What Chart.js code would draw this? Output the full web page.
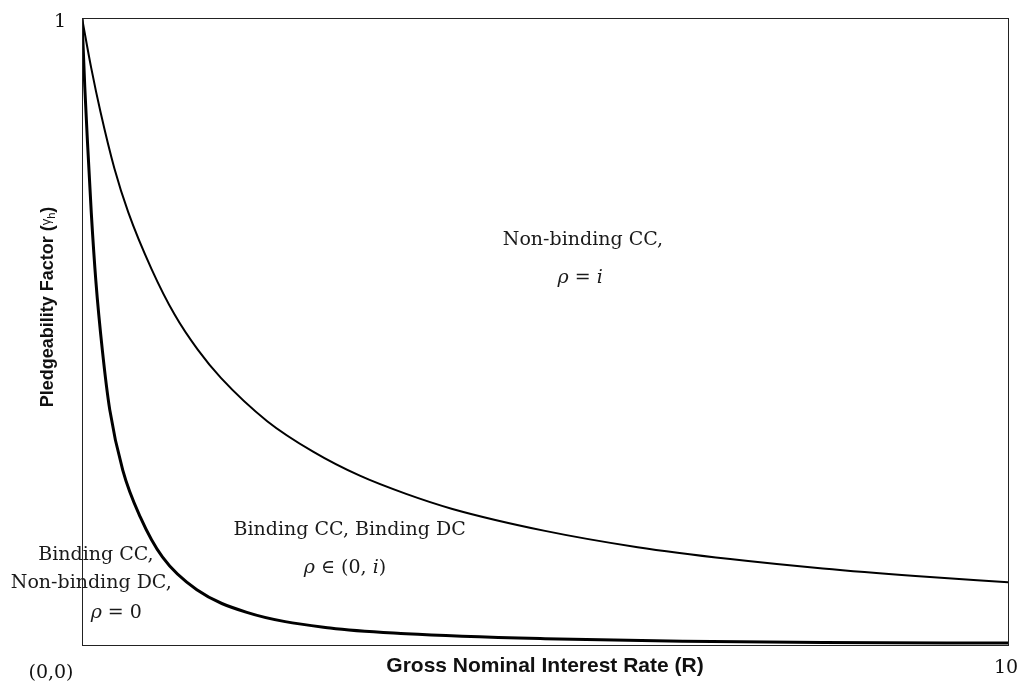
<!DOCTYPE html>
<html>
<head>
<meta charset="utf-8">
<script src="https://cdn.jsdelivr.net/npm/chart.js@4.4.0/dist/chart.umd.min.js"></script>
<style>
  html, body { margin: 0; padding: 0; background: #fff; }
  #wrap { width: 1021px; height: 690px; }
</style>
</head>
<body>
<div id="wrap"><canvas id="pledge"></canvas></div>
<script>
// upper curve : boundary between non-binding CC and binding CC/DC
const upperX = [0, 0.1, 0.2, 0.35, 0.5, 0.75, 1.0, 1.25, 1.5, 2.0, 2.5, 3.0, 3.5, 4.0, 5.0, 6.0, 7.0, 8.0, 9.0, 10];
const upperY = [1, 0.92, 0.85, 0.76, 0.69, 0.60, 0.527, 0.471, 0.426, 0.357, 0.308, 0.270, 0.241, 0.217, 0.182, 0.156, 0.137, 0.122, 0.110, 0.100];

// lower curve : boundary where the DC starts to bind
const lowerX = [0, 0.03, 0.06, 0.1, 0.15, 0.22, 0.30, 0.44, 0.63, 0.87, 1.24, 1.78, 2.68, 3.5, 5.0, 6.5, 8.0, 10];
const lowerY = [1, 0.89, 0.80, 0.69, 0.58, 0.47, 0.375, 0.279, 0.204, 0.140, 0.088, 0.052, 0.027, 0.018, 0.010, 0.006, 0.004, 0.003];

const xTickLabels = ['(0,0)', '10'];
const yTickLabels = ['1'];
const xTitle = 'Gross Nominal Interest Rate (R)';

// region texts, each line split in runs [text, italic?]
const regionText = [
  [['Non-binding CC,', false]],
  [['ρ', true], [' = ', false], ['i', true]],
  [['Binding CC, Binding DC', false]],
  [['ρ', true], [' ∈ (0, ', false], ['i', true], [')', false]],
  [['Binding CC,', false]],
  [['Non-binding DC,', false]],
  [['ρ', true], [' = 0', false]]
];
// where each line sits, in data units (center x, middle y)
const regionPos = [
  [5.41, 0.646], [5.38, 0.585],
  [2.89, 0.183], [2.84, 0.123],
  [0.15, 0.144], [0.10, 0.099], [0.37, 0.051]
];

const toPts = (xs, ys) => xs.map((x, i) => ({ x: x, y: ys[i] }));

const serif = '"DejaVu Serif", serif';
const sans = '"Liberation Sans", Arial, sans-serif';

function drawRuns(ctx, runs, cx, cy, size) {
  let total = 0;
  runs.forEach(r => {
    ctx.font = (r[1] ? 'italic ' : '') + size + 'px ' + serif;
    total += ctx.measureText(r[0]).width;
  });
  let x = cx - total / 2;
  ctx.textAlign = 'left';
  ctx.textBaseline = 'middle';
  runs.forEach(r => {
    ctx.font = (r[1] ? 'italic ' : '') + size + 'px ' + serif;
    ctx.fillText(r[0], x, cy);
    x += ctx.measureText(r[0]).width;
  });
}

const decor = {
  id: 'decor',
  afterDraw(chart) {
    const ctx = chart.ctx;
    const a = chart.chartArea;
    const xs = chart.scales.x, ys = chart.scales.y;
    ctx.save();

    // frame
    ctx.strokeStyle = '#222';
    ctx.lineWidth = 1;
    ctx.strokeRect(a.left + 0.5, a.top + 0.5, a.right - a.left, a.bottom - a.top);

    // tick labels
    ctx.fillStyle = '#111';
    ctx.font = '19px ' + serif;
    ctx.textAlign = 'center';
    ctx.textBaseline = 'middle';
    ctx.fillText(xTickLabels[0], xs.getPixelForValue(0) - 31, a.bottom + 28);
    ctx.fillText(xTickLabels[1], xs.getPixelForValue(10) - 2, a.bottom + 23);
    ctx.fillText(yTickLabels[0], 60, ys.getPixelForValue(1) + 4);

    // axis titles
    ctx.font = 'bold 21px ' + sans;
    ctx.fillText(xTitle, 545, a.bottom + 21);

    ctx.translate(48, 307);
    ctx.rotate(-Math.PI / 2);
    const main = 'Pledgeability Factor (';
    ctx.font = 'bold 18px ' + sans;
    const w1 = ctx.measureText(main).width;
    ctx.font = '13px ' + sans;
    const wg = ctx.measureText('γ').width;
    ctx.font = '11px ' + sans;
    const wh = ctx.measureText('h').width;
    ctx.font = 'bold 18px ' + sans;
    const wc = ctx.measureText(')').width;
    let x = -(w1 + wg + wh + wc) / 2;
    ctx.textAlign = 'left';
    ctx.fillText(main, x, 0); x += w1;
    ctx.font = '13px ' + sans;
    ctx.fillText('γ', x, -2); x += wg;
    ctx.font = '11px ' + sans;
    ctx.fillText('h', x, 4); x += wh;
    ctx.font = 'bold 18px ' + sans;
    ctx.fillText(')', x, 0);
    ctx.setTransform(1, 0, 0, 1, 0, 0);

    // region labels
    ctx.fillStyle = '#1a1a1a';
    regionText.forEach((runs, i) => {
      const p = regionPos[i];
      drawRuns(ctx, runs, xs.getPixelForValue(p[0]), ys.getPixelForValue(p[1]), 19);
    });
    ctx.restore();
  }
};

new Chart(document.getElementById('pledge'), {
  type: 'scatter',
  data: {
    datasets: [
      {
        label: 'upper',
        data: toPts(upperX, upperY),
        showLine: true,
        borderColor: '#000',
        borderWidth: 2,
        pointRadius: 0,
        cubicInterpolationMode: 'monotone'
      },
      {
        label: 'lower',
        data: toPts(lowerX, lowerY),
        showLine: true,
        borderColor: '#000',
        borderWidth: 3,
        pointRadius: 0,
        cubicInterpolationMode: 'monotone'
      }
    ]
  },
  options: {
    responsive: true,
    maintainAspectRatio: false,
    animation: false,
    layout: { padding: { left: 82, right: 13, top: 18, bottom: 45 } },
    plugins: { legend: { display: false }, tooltip: { enabled: false } },
    scales: {
      x: { type: 'linear', min: 0, max: 10, display: false },
      y: { type: 'linear', min: 0, max: 1, display: false }
    }
  },
  plugins: [decor]
});
</script>
</body>
</html>
